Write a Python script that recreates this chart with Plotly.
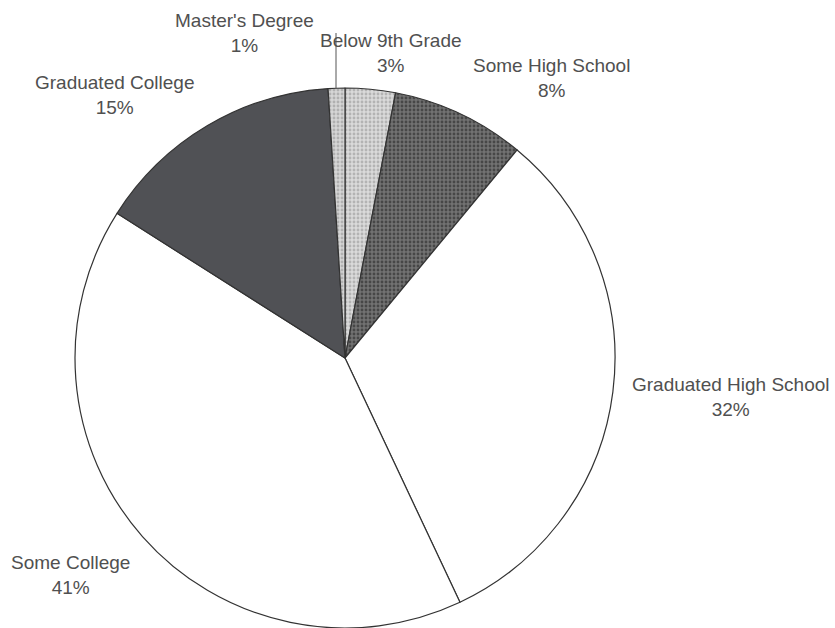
import plotly.graph_objects as go

categories = ["Below 9th Grade", "Some High School", "Graduated High School",
              "Some College", "Graduated College", "Master's Degree"]
values = [3, 8, 32, 41, 15, 1]
pct_labels = ["3%", "8%", "32%", "41%", "15%", "1%"]

colors = ["#dadada", "#727272", "#ffffff", "#ffffff", "#505155", "#d6d6d6"]
patterns = [".", ".", "", "", "", "."]
pat_fg = ["#b3b3b3", "#474747", "#ffffff", "#ffffff", "#505155", "#b0b0b0"]

W, H = 835, 628
cx, cy, r = 345, 358, 270

fig = go.Figure(go.Pie(
    labels=categories, values=values, sort=False, direction="clockwise",
    rotation=0, textinfo="none", hoverinfo="label+percent",
    marker=dict(colors=colors, line=dict(color="#333333", width=1.2),
                pattern=dict(shape=patterns, fgcolor=pat_fg, bgcolor=colors,
                             fillmode="replace", size=4, solidity=0.4)),
    domain=dict(x=[(cx - r) / W, (cx + r) / W], y=[(H - cy - r) / H, (H - cy + r) / H]),
    showlegend=False,
))

label_pos = {
    "Master's Degree": (245, 33),
    "Below 9th Grade": (391, 53),
    "Some High School": (551, 78),
    "Graduated College": (115, 95),
    "Graduated High School": (731, 397),
    "Some College": (70, 575),
}
for name, pct in zip(categories, pct_labels):
    x, y = label_pos[name]
    fig.add_annotation(x=x / W, y=1 - y / H, xref="paper", yref="paper",
                       text=f"{name}<br>{pct}", showarrow=False,
                       font=dict(family="Liberation Sans, Arial", size=19, color="#505050"),
                       align="center", xanchor="center", yanchor="middle")

# leader line for Master's Degree
fig.add_shape(type="line", xref="paper", yref="paper",
              x0=336 / W, x1=336 / W, y0=1 - 33 / H, y1=1 - 89 / H,
              line=dict(color="#555555", width=1))

fig.update_layout(width=W, height=H, margin=dict(l=0, r=0, t=0, b=0),
                  paper_bgcolor="white", plot_bgcolor="white")
fig.write_html("out.html", config={"displayModeBar": False},
               post_script="document.body.style.margin='0';document.body.style.overflow='hidden';")
